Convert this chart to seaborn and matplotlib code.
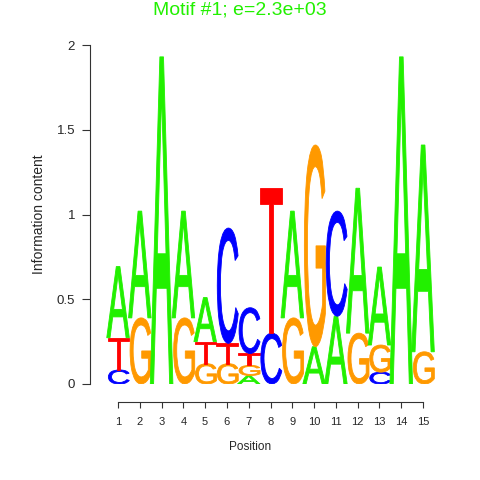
import numpy as np
import pandas as pd
import seaborn as sns
import matplotlib
matplotlib.use("Agg")
import matplotlib.pyplot as plt
from matplotlib.textpath import TextPath
from matplotlib.font_manager import FontProperties
from matplotlib.patches import PathPatch
from matplotlib.transforms import Affine2D

positions = list(range(1, 16))
A = [0.42, 0.63, 1.93, 0.63, 0.26, 0.0, 0.05, 0.0, 0.63, 0.22, 0.40, 0.855, 0.46, 1.93, 1.22]
C = [0.083, 0.0, 0.0, 0.0, 0.0, 0.68, 0.27, 0.30, 0.0, 0.0, 0.62, 0.0, 0.07, 0.0, 0.0]
G = [0.0, 0.39, 0.0, 0.39, 0.12, 0.12, 0.06, 0.0, 0.39, 1.19, 0.0, 0.30, 0.16, 0.0, 0.19]
T = [0.19, 0.0, 0.0, 0.0, 0.13, 0.12, 0.07, 0.855, 0.0, 0.0, 0.0, 0.0, 0.0, 0.0, 0.0]
y_ticks = [0, 0.5, 1, 1.5, 2]
y_tick_labels = ["0", "0.5", "1", "1.5", "2"]
title = "Motif #1; e=2.3e+03"

colors = {"A": "#22F000", "C": "#0000FF", "G": "#FF9900", "T": "#FF0000"}

df = pd.DataFrame({"pos": positions, "A": A, "C": C, "G": G, "T": T})

sns.set_style("ticks")
plt.rcParams["font.family"] = ["Liberation Sans", "DejaVu Sans"]

fig = plt.figure(figsize=(4.8, 4.8), dpi=100)
ax = fig.add_axes([90 / 480, 96 / 480, 350 / 480, 339 / 480])

fp = FontProperties(family="Liberation Sans", weight="normal")
letter_paths = {}
for L in "ACGT":
    p = TextPath((0, 0), L, size=1, prop=fp)
    v = p.vertices
    x0, y0 = v[:, 0].min(), v[:, 1].min()
    x1, y1 = v[:, 0].max(), v[:, 1].max()
    letter_paths[L] = (p, x0, y0, x1 - x0, y1 - y0)

width = 1.04
for _, row in df.iterrows():
    items = [(L, row[L]) for L in "ACGT" if row[L] > 0]
    items.sort(key=lambda t: t[1])
    base = 0.0
    for L, h in items:
        p, x0, y0, w0, h0 = letter_paths[L]
        tr = (Affine2D().translate(-x0, -y0).scale(width / w0, h / h0)
              .translate(row["pos"] - width / 2, base))
        patch = PathPatch(tr.transform_path(p), facecolor=colors[L],
                          edgecolor=colors[L], linewidth=0.6,
                          transform=ax.transData)
        ax.add_patch(patch)
        base += h

x_px0 = 118.0
x_step = (423.0 - 118.0) / 14
ax.set_xlim(1 - (x_px0 - 90) / x_step, 1 + (440 - x_px0) / x_step)
ax.set_ylim(0, 2)

ax.spines["top"].set_visible(False)
ax.spines["right"].set_visible(False)
ax.spines["bottom"].set_position(("outward", 13))
ax.spines["bottom"].set_bounds(1, 15)
ax.spines["left"].set_bounds(0, 2)
for s in ["bottom", "left"]:
    ax.spines[s].set_linewidth(0.8)
    ax.spines[s].set_color("#333333")

ax.set_xticks(positions)
ax.set_xticklabels([str(p) for p in positions], fontsize=8)
ax.set_yticks(y_ticks)
ax.set_yticklabels(y_tick_labels, fontsize=9.5)
ax.tick_params(axis="x", length=4.5, width=0.8, pad=6, color="#333333")
ax.tick_params(axis="y", length=5.8, width=0.8, pad=5, color="#333333")

ax.set_xlabel("Position", fontsize=8.5)
ax.xaxis.set_label_coords(0.458, -0.168)
ax.set_ylabel("Information content", fontsize=10)
ax.yaxis.set_label_coords(-0.126, 0.5)

fig.text(240 / 480, 1 - 10 / 480, title, color="#22F000", fontsize=14,
         ha="center", va="center")

fig.savefig("out.png", dpi=100)
